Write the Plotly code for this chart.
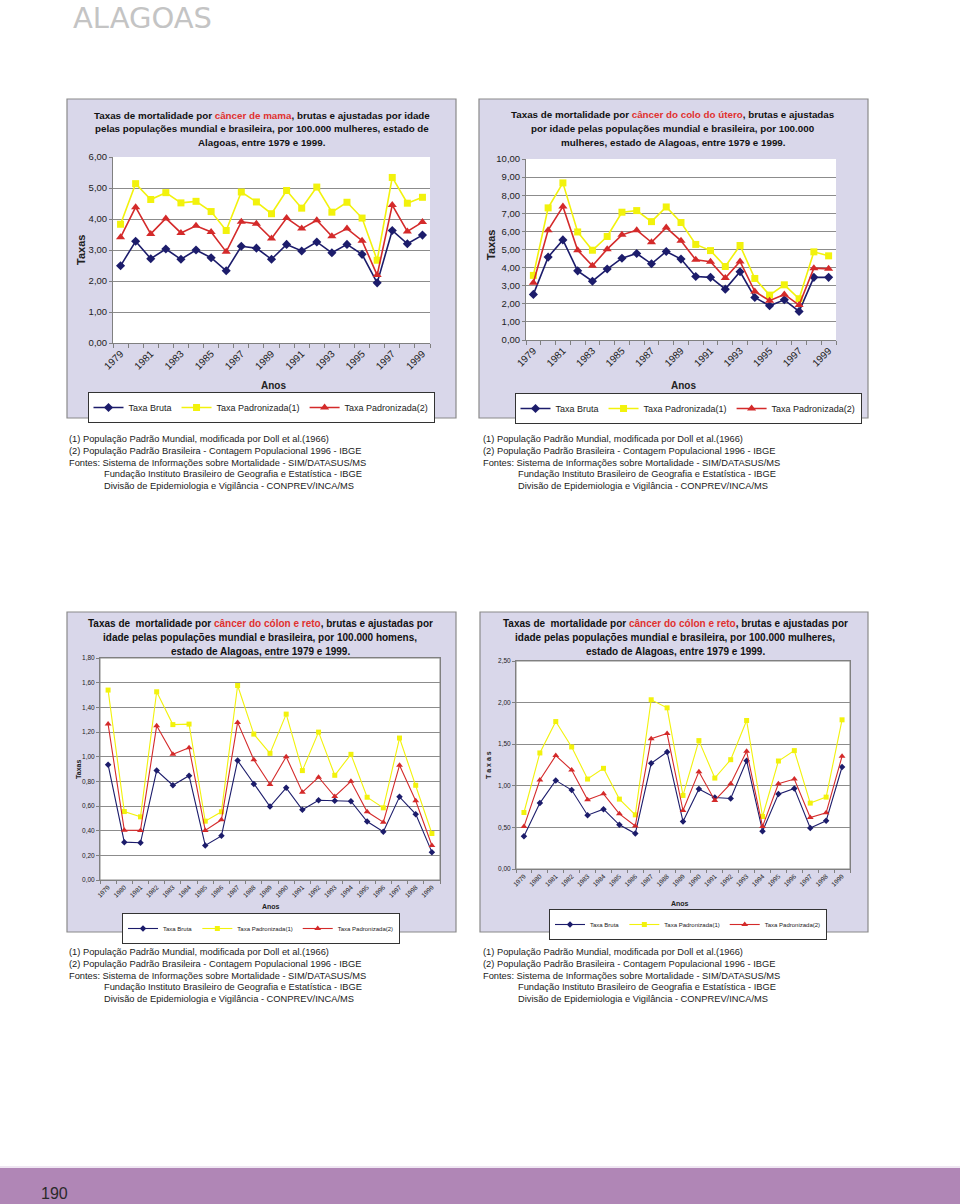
import plotly.graph_objects as go

W, H = 960, 1204
years = list(range(1979, 2000))

# ---- Data ----
mama_bruta = [2.49, 3.28, 2.72, 3.03, 2.70, 3.00, 2.75, 2.33, 3.12, 3.06, 2.70,
              3.18, 2.97, 3.26, 2.91, 3.18, 2.86, 1.94, 3.63, 3.20, 3.48]
mama_pad1 = [3.83, 5.14, 4.63, 4.85, 4.52, 4.57, 4.24, 3.63, 4.87, 4.55, 4.17,
             4.92, 4.35, 5.03, 4.22, 4.54, 4.03, 2.67, 5.34, 4.51, 4.70]
mama_pad2 = [3.41, 4.38, 3.52, 4.02, 3.55, 3.78, 3.58, 2.94, 3.91, 3.85, 3.37,
             4.03, 3.69, 3.96, 3.44, 3.69, 3.30, 2.19, 4.45, 3.60, 3.90]

utero_bruta = [2.52, 4.58, 5.53, 3.82, 3.25, 3.92, 4.52, 4.78, 4.21, 4.89, 4.47,
               3.51, 3.46, 2.81, 3.77, 2.35, 1.89, 2.22, 1.58, 3.46, 3.46]
utero_pad1 = [3.57, 7.30, 8.68, 5.97, 4.96, 5.72, 7.06, 7.15, 6.54, 7.35, 6.49,
              5.28, 4.94, 4.06, 5.22, 3.40, 2.48, 3.05, 2.28, 4.87, 4.65]
utero_pad2 = [3.16, 6.07, 7.37, 4.96, 4.10, 5.02, 5.81, 6.07, 5.40, 6.21, 5.48,
              4.43, 4.32, 3.42, 4.34, 2.68, 2.17, 2.52, 1.93, 3.97, 3.93]

colon_h_bruta = [0.935, 0.307, 0.302, 0.887, 0.768, 0.846, 0.280, 0.358, 0.968, 0.779, 0.596,
                 0.747, 0.569, 0.647, 0.642, 0.639, 0.474, 0.391, 0.674, 0.534, 0.226]
colon_h_pad1 = [1.540, 0.555, 0.512, 1.526, 1.260, 1.264, 0.477, 0.553, 1.577, 1.183, 1.027,
                1.345, 0.887, 1.199, 0.849, 1.019, 0.671, 0.585, 1.151, 0.768, 0.377]
colon_h_pad2 = [1.264, 0.404, 0.402, 1.250, 1.020, 1.073, 0.402, 0.488, 1.278, 0.976, 0.774,
                1.000, 0.712, 0.833, 0.677, 0.800, 0.553, 0.469, 0.930, 0.642, 0.280]

colon_m_bruta = [0.394, 0.792, 1.065, 0.949, 0.647, 0.719, 0.531, 0.426, 1.270, 1.407, 0.571,
                 0.961, 0.860, 0.848, 1.302, 0.454, 0.900, 0.969, 0.494, 0.579, 1.226]
colon_m_pad1 = [0.679, 1.395, 1.772, 1.467, 1.081, 1.210, 0.840, 0.651, 2.034, 1.937, 0.884,
                1.543, 1.093, 1.314, 1.785, 0.631, 1.298, 1.423, 0.792, 0.864, 1.793]
colon_m_pad2 = [0.510, 1.069, 1.363, 1.190, 0.832, 0.904, 0.663, 0.518, 1.567, 1.628, 0.703,
                1.170, 0.824, 1.025, 1.415, 0.510, 1.025, 1.081, 0.619, 0.675, 1.355]

series_names = ["Taxa Bruta", "Taxa Padronizada(1)", "Taxa Padronizada(2)"]

footnotes = [
    "(1) População Padrão Mundial, modificada por Doll et al.(1966)",
    "(2) População Padrão Brasileira - Contagem Populacional 1996 - IBGE",
    "Fontes: Sistema de Informações sobre Mortalidade - SIM/DATASUS/MS",
    "Fundação Instituto Brasileiro de Geografia e Estatística - IBGE",
    "Divisão de Epidemiologia e Vigilância - CONPREV/INCA/MS",
]

RED = "#e0312f"
def red(s):
    return f"<span style='color:{RED}'>{s}</span>"

titles = [
    ["Taxas de mortalidade por " + red("câncer de mama") + ", brutas e ajustadas por idade",
     "pelas populações mundial e brasileira, por 100.000 mulheres, estado de",
     "Alagoas, entre 1979 e 1999."],
    ["Taxas de mortalidade por " + red("câncer do colo do útero") + ", brutas e ajustadas",
     "por idade pelas populações mundial e brasileira, por 100.000",
     "mulheres, estado de Alagoas, entre 1979 e 1999."],
    ["Taxas de  mortalidade por " + red("câncer do cólon e reto") + ", brutas e ajustadas por",
     "idade pelas populações mundial e brasileira, por 100.000 homens,",
     "estado de Alagoas, entre 1979 e 1999."],
    ["Taxas de  mortalidade por " + red("câncer do cólon e reto") + ", brutas e ajustadas por",
     "idade pelas populações mundial e brasileira, por 100.000 mulheres,",
     "estado de Alagoas, entre 1979 e 1999."],
]

ARIAL = "Liberation Sans, Arial, sans-serif"

PANEL_BG = "#d9d7ea"
NAVY = "#1c1c6b"
YEL = "#f2f20c"
REDL = "#d42a2a"

charts = [
    dict(data=(mama_bruta, mama_pad1, mama_pad2), panel=(67, 99, 456, 418),
         plot=(113, 157, 430, 343), yr=(0, 6), dtick=1, every=2, big=True,
         tcx=262, tys=(115, 128.5, 142), ylab=(81, 250, "Taxas"), anos=(273, 386),
         leg=(261, 392), foot=(67, 439), box=False),
    dict(data=(utero_bruta, utero_pad1, utero_pad2), panel=(479, 99, 868, 418),
         plot=(526, 159, 836, 340), yr=(0, 10), dtick=1, every=2, big=True,
         tcx=673, tys=(114, 128.5, 143), ylab=(491, 245, "Taxas"), anos=(683, 386),
         leg=(688, 393), foot=(481, 439), box=False),
    dict(data=(colon_h_bruta, colon_h_pad1, colon_h_pad2), panel=(67, 612, 456, 932),
         plot=(100, 658, 440, 880), yr=(0, 1.8), dtick=0.2, every=1, big=False,
         tcx=260, tys=(623, 637, 651), ylab=(78, 770, "Taxas"), anos=(271, 906),
         leg=(261, 913), foot=(67, 952), box=True),
    dict(data=(colon_m_bruta, colon_m_pad1, colon_m_pad2), panel=(480, 612, 868, 932),
         plot=(516, 661, 850, 869), yr=(0, 2.5), dtick=0.5, every=1, big=False,
         tcx=675, tys=(623, 637, 651), ylab=(488, 765, "T a x a s"), anos=(680, 903),
         leg=(688, 909), foot=(481, 952), box=True),
]

def X(px):
    return px / W

def Y(py):
    return 1 - py / H

fig = go.Figure()
shapes = []
annotations = []
layout = {}

styles = [
    dict(color=NAVY, symbol="diamond"),
    dict(color=YEL, symbol="square"),
    dict(color=REDL, symbol="triangle-up"),
]

for i, c in enumerate(charts, start=1):
    sfx = "" if i == 1 else str(i)
    x0, y0, x1, y1 = c["panel"]
    shapes.append(dict(type="rect", xref="paper", yref="paper",
                       x0=X(x0), x1=X(x1), y0=Y(y1), y1=Y(y0),
                       fillcolor=PANEL_BG, line=dict(color="#8a8a8a", width=1.2),
                       layer="below"))
    px0, py0, px1, py1 = c["plot"]
    shapes.append(dict(type="rect", xref="paper", yref="paper",
                       x0=X(px0), x1=X(px1), y0=Y(py1), y1=Y(py0),
                       fillcolor="white",
                       line=dict(color="#8a8a8a" if c["box"] else "rgba(0,0,0,0)", width=1),
                       layer="below"))
    big = c["big"]
    tfs = 9.5 if big else 6.5
    msz = 7 if big else 5
    lw = 1.6 if big else 1.1
    legname = "legend" if i == 1 else f"legend{i}"
    for k, (vals, st) in enumerate(zip(c["data"], styles)):
        fig.add_trace(go.Scatter(
            x=years, y=vals, mode="lines+markers", name=series_names[k],
            xaxis="x" + sfx, yaxis="y" + sfx, legend=legname,
            line=dict(color=st["color"], width=lw),
            marker=dict(symbol=st["symbol"], color=st["color"],
                        size=msz + (1 if st["symbol"] == "triangle-up" else 0),
                        line=dict(width=0)),
            hoverinfo="skip",
        ))
    tickvals = years[::c["every"]]
    layout["xaxis" + sfx] = dict(
        domain=[X(px0), X(px1)], anchor="y" + sfx, range=[1978.5, 1999.5],
        tickmode="array", tickvals=tickvals, ticktext=[str(v) for v in tickvals],
        tickangle=-45, tickfont=dict(family=ARIAL, size=10 if big else 6.5, color="#222"),
        ticks="", showgrid=False, zeroline=False, automargin=False,
        showline=True, linecolor="#808080", linewidth=1, mirror=c["box"],
        minor=dict(tickmode="linear", tick0=1978.5, dtick=1, ticks="outside",
                   ticklen=4 if big else 3, tickcolor="#808080", showgrid=False),
        fixedrange=True,
    )
    layout["yaxis" + sfx] = dict(
        domain=[Y(py1), Y(py0)], anchor="x" + sfx, range=list(c["yr"]),
        tickmode="linear", tick0=0, dtick=c["dtick"], tickformat=".2f",
        tickfont=dict(family=ARIAL, size=tfs, color="#222"),
        ticks="outside", ticklen=3, tickcolor="#808080",
        showgrid=True, gridcolor="#8c8c8c", gridwidth=1, zeroline=False,
        showline=True, linecolor="#808080", linewidth=1, mirror=c["box"],
        automargin=False, fixedrange=True,
    )
    # title lines
    for line, ty in zip(titles[i - 1], c["tys"]):
        annotations.append(dict(
            x=X(c["tcx"]), y=Y(ty), xref="paper", yref="paper",
            xanchor="center", yanchor="middle", showarrow=False,
            text="<b>" + line + "</b>",
            font=dict(family=ARIAL, size=9.8 if big else 10, color="#111"),
        ))
    # y axis label
    lx, ly, lt = c["ylab"]
    annotations.append(dict(x=X(lx), y=Y(ly), xref="paper", yref="paper",
                            xanchor="center", yanchor="middle", showarrow=False,
                            textangle=-90, text="<b>" + lt + "</b>",
                            font=dict(family=ARIAL, size=11 if big else 7, color="#222")))
    # x axis label
    ax, ay = c["anos"]
    annotations.append(dict(x=X(ax), y=Y(ay), xref="paper", yref="paper",
                            xanchor="center", yanchor="middle", showarrow=False,
                            text="<b>Anos</b>",
                            font=dict(family=ARIAL, size=10 if big else 7, color="#222")))
    # legend
    lgx, lgy = c["leg"]
    layout[legname] = dict(
        x=X(lgx), y=Y(lgy), xanchor="center", yanchor="top", orientation="h",
        bgcolor="white", bordercolor="#333", borderwidth=1,
        font=dict(family=ARIAL, size=9 if big else 6, color="#222"),
        itemwidth=30, tracegroupgap=0, itemclick=False, itemdoubleclick=False,
    )
    # footnotes
    fx, fy = c["foot"]
    for j, ft in enumerate(footnotes):
        annotations.append(dict(
            x=X(fx + (35 if j >= 3 else 0)), y=Y(fy + j * 11.8), xref="paper", yref="paper",
            xanchor="left", yanchor="middle", showarrow=False, text=ft,
            font=dict(family=ARIAL, size=9.3, color="#1a1a1a"),
        ))

# header and page band
annotations.append(dict(x=X(72), y=1, xref="paper", yref="paper",
                        xanchor="left", yanchor="top", showarrow=False,
                        text="ALAGOAS", borderpad=0,
                        font=dict(family="DejaVu Sans, Verdana, sans-serif", size=29,
                                  color="#c4c4c4")))
shapes.append(dict(type="rect", xref="paper", yref="paper",
                   x0=0, x1=1, y0=0, y1=Y(1168), fillcolor="#b086b6",
                   line=dict(width=0), layer="below"))
shapes.append(dict(type="rect", xref="paper", yref="paper",
                   x0=0, x1=1, y0=Y(1168), y1=Y(1166), fillcolor="#efe6f2",
                   line=dict(width=0), layer="below"))
annotations.append(dict(x=X(39), y=Y(1193), xref="paper", yref="paper",
                        xanchor="left", yanchor="middle", showarrow=False,
                        text="190",
                        font=dict(family=ARIAL, size=16, color="#2a2a2a")))

fig.update_layout(
    width=W, height=H,
    margin=dict(l=0, r=0, t=0, b=0, pad=0, autoexpand=False),
    paper_bgcolor="white", plot_bgcolor="rgba(0,0,0,0)",
    separators=",.", showlegend=True,
    shapes=shapes, annotations=annotations, **layout,
)

fig.write_html(
    "out.html",
    config={"displayModeBar": False, "staticPlot": False},
    post_script="document.body.style.margin='0';document.body.style.overflow='hidden';"
                "document.documentElement.style.overflow='hidden';",
)
